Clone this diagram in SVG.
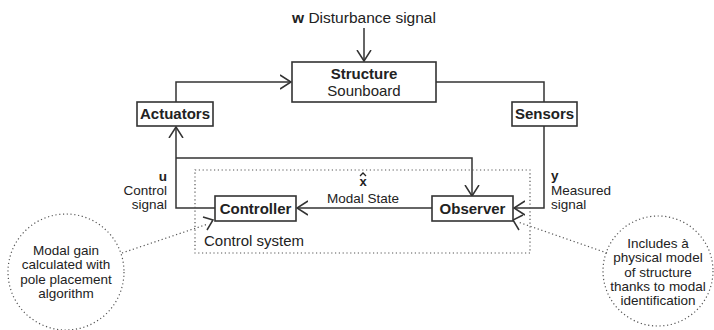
<svg xmlns="http://www.w3.org/2000/svg" width="714" height="330" viewBox="0 0 714 330">
<style>
.box{fill:#fff;stroke:#333;stroke-width:1.6}
.ln{fill:none;stroke:#333;stroke-width:1.5}
.dot{fill:none;stroke:#555;stroke-width:1.2;stroke-dasharray:1.2 2.6}
.t{font-family:"Liberation Sans",Arial,sans-serif;font-size:14px;fill:#222}
.b{font-weight:bold;font-size:15px}
.s{font-size:13.5px}
.m{text-anchor:middle}
.r{text-anchor:end}
</style>
<defs>
<marker id="ah" markerUnits="userSpaceOnUse" markerWidth="14" markerHeight="16" refX="11" refY="8" orient="auto" viewBox="0 0 14 16">
<path d="M0,1 L11,8 L0,15" fill="none" stroke="#333" stroke-width="1.5"/>
</marker>
</defs>
<rect width="714" height="330" fill="#fff"/>
<g id="connectors">
<path class="ln" d="M364,28 V61" marker-end="url(#ah)"/>
<path class="ln" d="M176,102 V82 H291" marker-end="url(#ah)"/>
<path class="ln" d="M436,82 H544 V102"/>
<path class="ln" d="M544,126 V208 H514" marker-end="url(#ah)"/>
<path class="ln" d="M215,208 H176 V127" marker-end="url(#ah)"/>
<path class="ln" d="M176,158 H472 V196" marker-end="url(#ah)"/>
<path class="ln" d="M432,208 H297" marker-end="url(#ah)"/>
<path class="ln" d="M203,217 L213,220 L207,230"/>
<path class="ln" d="M523,215 L513,220 L519,230"/>
<path class="dot" d="M122,253 L208,224"/>
<path class="dot" d="M607,253 L518,222"/>
</g>
<g id="disturbance">
<text class="t" x="364" y="23" text-anchor="middle" style="font-size:15.5px"><tspan font-weight="bold">w</tspan> Disturbance signal</text>
</g>
<g id="structure">
<rect class="box" x="292" y="62" width="144" height="40"/>
<text class="t b m" x="364" y="79">Structure</text>
<text class="t m" x="364" y="96" style="font-size:15px">Sounboard</text>
</g>
<g id="actuators">
<rect class="box" x="137" y="102" width="76" height="24"/>
<text class="t b m" x="175" y="119">Actuators</text>
</g>
<g id="sensors">
<rect class="box" x="512" y="102" width="65" height="24"/>
<text class="t b m" x="544.5" y="119">Sensors</text>
</g>
<g id="control-system">
<rect class="dot" x="195" y="170" width="335" height="83"/>
<text class="t" x="204" y="246" style="font-size:15px">Control system</text>
</g>
<g id="controller">
<rect class="box" x="215" y="196" width="81" height="25"/>
<text class="t b m" x="255.5" y="214">Controller</text>
</g>
<g id="observer">
<rect class="box" x="432" y="196" width="81" height="25"/>
<text class="t b m" x="472.5" y="214">Observer</text>
</g>
<g id="labels">
<text class="t m" x="363" y="186" font-weight="bold" style="font-size:13px">x</text>
<path d="M360,176 L363,173 L366,176" fill="none" stroke="#222" stroke-width="1.3"/>
<text class="t s m" x="363" y="203">Modal State</text>
<text class="t s r" x="167" y="181" font-weight="bold">u</text>
<text class="t s r" x="167" y="195">Control</text>
<text class="t s r" x="167" y="209">signal</text>
<text class="t s" x="551" y="180" font-weight="bold">y</text>
<text class="t s" x="551" y="195">Measured</text>
<text class="t s" x="551" y="209">signal</text>
</g>
<g id="note-left">
<circle class="dot" cx="66" cy="272" r="58"/>
<text class="t s m" x="66" y="255">Modal gain</text>
<text class="t s m" x="66" y="269">calculated with</text>
<text class="t s m" x="66" y="284">pole placement</text>
<text class="t s m" x="66" y="298">algorithm</text>
</g>
<g id="note-right">
<circle class="dot" cx="658" cy="271" r="55"/>
<text class="t s m" x="658" y="248">Includes à</text>
<text class="t s m" x="658" y="262">physical model</text>
<text class="t s m" x="658" y="277">of structure</text>
<text class="t s m" x="658" y="291">thanks to modal</text>
<text class="t s m" x="658" y="305">identification</text>
</g>
</svg>
